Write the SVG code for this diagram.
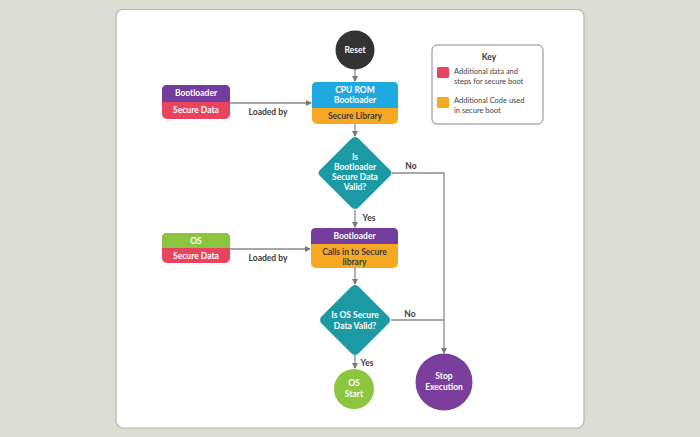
<svg xmlns="http://www.w3.org/2000/svg" width="700" height="437" viewBox="0 0 700 437">
<defs>
<marker id="ah" markerWidth="6" markerHeight="6" refX="5" refY="3" orient="auto" markerUnits="userSpaceOnUse">
<path d="M0,0 L6,3 L0,6 Z" fill="#7a7a7a"/>
</marker>
<style>
.w{font-family:Lato,"Open Sans","Liberation Sans",sans-serif;font-weight:700;fill:#ffffff;font-size:8.5px;text-anchor:middle}
.d{font-family:Lato,"Open Sans","Liberation Sans",sans-serif;font-weight:700;fill:#3a3a3a;font-size:8.5px;text-anchor:middle}
.k{font-family:Lato,"Open Sans","Liberation Sans",sans-serif;fill:#444444;font-size:7.5px}
.c{fill:none;stroke:#8a8a8a;stroke-width:1.3}
</style>
</defs>
<rect x="0" y="0" width="700" height="437" fill="#dcded6"/>
<rect x="116" y="9.5" width="468" height="418.5" rx="7" fill="#ffffff" stroke="#b4b6b0" stroke-width="1.2"/>

<g id="connectors">
<path class="c" d="M355,69 V81" marker-end="url(#ah)"/>
<path class="c" d="M230,103 H311" marker-end="url(#ah)"/>
<path class="c" d="M355,124 V136" marker-end="url(#ah)"/>
<path class="c" d="M355,210 V227" marker-end="url(#ah)"/>
<path class="c" d="M392,173 H444 V353" marker-end="url(#ah)"/>
<path class="c" d="M230,249 H310" marker-end="url(#ah)"/>
<path class="c" d="M355,268 V284" marker-end="url(#ah)"/>
<path class="c" d="M391,320 H444"/>
<path class="c" d="M355,355 V368" marker-end="url(#ah)"/>
<text class="d" x="268" y="115">Loaded by</text>
<text class="d" x="268" y="261">Loaded by</text>
<text class="d" x="411" y="169">No</text>
<text class="d" x="369" y="221">Yes</text>
<text class="d" x="410" y="317">No</text>
<text class="d" x="367" y="366">Yes</text>
</g>

<g id="reset">
<circle cx="355" cy="50" r="19.5" fill="#333333"/>
<text class="w" x="355" y="53">Reset</text>
</g>

<g id="cpu-rom">
<rect x="312" y="82" width="86" height="42" rx="5" fill="#f7a823"/>
<path d="M312,108 V87 Q312,82 317,82 H393 Q398,82 398,87 V108 Z" fill="#1ea9e1"/>
<text class="w" x="355" y="93">CPU ROM</text>
<text class="w" x="355" y="103">Bootloader</text>
<text class="d" x="355" y="119">Secure Library</text>
</g>

<g id="bootloader-data">
<rect x="162" y="85" width="68" height="34" rx="5" fill="#e8435f"/>
<path d="M162,102 V90 Q162,85 167,85 H225 Q230,85 230,90 V102 Z" fill="#743c9c"/>
<text class="w" x="196" y="96">Bootloader</text>
<text class="w" x="196" y="113">Secure Data</text>
</g>

<g id="decision1">
<path d="M355,137 Q357,137 359,139 L390,170 Q393,173 390,176 L359,207 Q355,211 351,207 L320,176 Q317,173 320,170 L351,139 Q353,137 355,137 Z" fill="#1c9aa4"/>
<text class="w" x="355" y="160">Is</text>
<text class="w" x="355" y="170">Bootloader</text>
<text class="w" x="355" y="180">Secure Data</text>
<text class="w" x="355" y="190">Valid?</text>
</g>

<g id="os-data">
<rect x="162" y="233" width="68" height="30" rx="5" fill="#e8435f"/>
<path d="M162,248 V238 Q162,233 167,233 H225 Q230,233 230,238 V248 Z" fill="#8cc63f"/>
<text class="w" x="196" y="244">OS</text>
<text class="w" x="196" y="259">Secure Data</text>
</g>

<g id="bootloader2">
<rect x="311" y="228" width="87" height="40" rx="5" fill="#f7a823"/>
<path d="M311,244 V233 Q311,228 316,228 H393 Q398,228 398,233 V244 Z" fill="#743c9c"/>
<text class="w" x="354.5" y="239">Bootloader</text>
<text class="d" x="354.5" y="255">Calls in to Secure</text>
<text class="d" x="354.5" y="265">library</text>
</g>

<g id="decision2">
<path d="M355,285 Q357,285 359,287 L388,316 Q392,320 388,324 L359,353 Q355,357 351,353 L322,324 Q318,320 322,316 L351,287 Q353,285 355,285 Z" fill="#1c9aa4"/>
<text class="w" x="355" y="318">Is OS Secure</text>
<text class="w" x="355" y="329">Data Valid?</text>
</g>

<g id="os-start">
<circle cx="354" cy="389" r="20" fill="#8cc63f"/>
<text class="w" x="354" y="386">OS</text>
<text class="w" x="354" y="397">Start</text>
</g>

<g id="stop">
<circle cx="444" cy="382" r="28.5" fill="#7a3e9d"/>
<text class="w" x="444" y="379">Stop</text>
<text class="w" x="444" y="390">Execution</text>
</g>

<g id="key">
<rect x="432" y="45" width="111" height="79" rx="5" fill="#ffffff" stroke="#8a8a8a" stroke-width="1"/>
<text class="d" x="489" y="60">Key</text>
<rect x="437" y="67" width="12" height="11" rx="1.5" fill="#e8435f"/>
<text class="k" x="454" y="74">Additional data and</text>
<text class="k" x="454" y="84">steps for secure boot</text>
<rect x="437" y="97" width="12" height="11" rx="1.5" fill="#f7a823"/>
<text class="k" x="454" y="103">Additional Code used</text>
<text class="k" x="454" y="113">in secure boot</text>
</g>
</svg>
